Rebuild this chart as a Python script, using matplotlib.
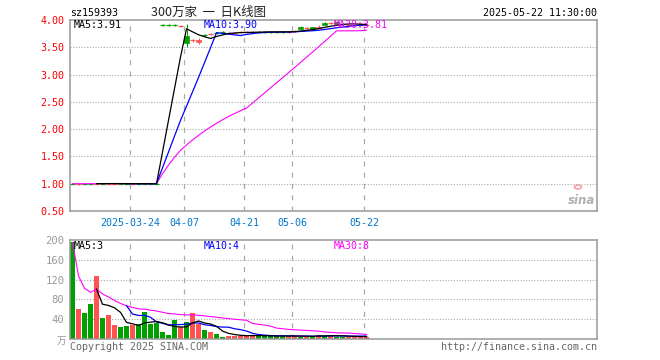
import numpy as np
import pandas as pd
import matplotlib
matplotlib.use('Agg')
import matplotlib.pyplot as plt
from matplotlib.patches import Rectangle, Circle

plt.rcParams['font.family'] = ['DejaVu Sans Mono', 'Noto Sans CJK SC']

# ---------------- data ----------------
date_idx = [10, 19, 29, 37, 49]
date_labels = ['2025-03-24', '04-07', '04-21', '05-06', '05-22']

open_ = [1.001, 0.999, 1.001, 1.001, 1.000, 1.005, 1.001, 1.001, 1.002, 1.001,
         1.000, 1.001, 1.001, 1.001, 1.001,
         3.912, 3.912, 3.912, 3.888, 3.700, 3.620, 3.600, 3.725, 3.735, 3.765,
         3.775, 3.765, 3.765, 3.770, 3.770, 3.775, 3.790, 3.790, 3.790, 3.785,
         3.785, 3.780, 3.790, 3.880, 3.845, 3.870, 3.860, 3.950, 3.945, 3.970,
         3.935, 3.915, 3.915, 3.915, 3.905]
close = [1.000, 1.001, 1.000, 1.000, 1.005, 1.002, 1.002, 1.002, 1.001, 1.000,
         1.001, 1.000, 1.000, 1.000, 1.000,
         3.908, 3.908, 3.908, 3.892, 3.580, 3.630, 3.640, 3.720, 3.740, 3.760,
         3.770, 3.770, 3.770, 3.775, 3.775, 3.780, 3.785, 3.785, 3.785, 3.780,
         3.780, 3.785, 3.800, 3.840, 3.850, 3.840, 3.880, 3.910, 3.950, 3.930,
         3.925, 3.920, 3.920, 3.920, 3.910]
high = [1.002, 1.002, 1.002, 1.002, 1.006, 1.006, 1.003, 1.003, 1.003, 1.002,
        1.002, 1.002, 1.002, 1.002, 1.002,
        3.93, 3.93, 3.93, 3.91, 3.92, 3.66, 3.67, 3.74, 3.76, 3.78,
        3.79, 3.78, 3.78, 3.79, 3.79, 3.80, 3.80, 3.80, 3.80, 3.80,
        3.80, 3.80, 3.81, 3.89, 3.87, 3.88, 3.90, 3.96, 3.97, 3.98,
        3.95, 3.94, 3.94, 3.94, 3.93]
low = [0.999, 0.985, 0.999, 0.999, 0.999, 1.001, 1.000, 1.000, 1.000, 0.999,
       0.999, 0.999, 0.999, 0.999, 0.999,
       3.89, 3.89, 3.89, 3.87, 3.50, 3.60, 3.56, 3.70, 3.72, 3.75,
       3.76, 3.76, 3.76, 3.76, 3.76, 3.77, 3.77, 3.77, 3.77, 3.77,
       3.77, 3.77, 3.78, 3.83, 3.83, 3.83, 3.85, 3.90, 3.93, 3.92,
       3.91, 3.90, 3.90, 3.90, 3.89]
volume = [195, 60, 52, 70, 127, 42, 48, 28, 24, 26,
          28, 30, 55, 31, 33, 15, 9, 39, 25, 35,
          53, 30, 19, 15, 11, 5, 7, 7, 7, 7,
          7, 6, 6, 6, 6, 6, 6, 6, 5, 5,
          5, 9, 7, 7, 5, 5, 5, 5, 5, 4]

price_ma_labels = ['MA5:3.91', 'MA10:3.90', 'MA30:3.81']
vol_ma_labels = ['MA5:3', 'MA10:4', 'MA30:8']
title_code = 'sz159393'
title_name = '300万家  一  日K线图'
title_time = '2025-05-22 11:30:00'

# ---------------- layout helpers ----------------
W, H = 660, 360
fig = plt.figure(figsize=(6.6, 3.6), dpi=100)


def rect(l, t, r, b):
    return [l / W, 1 - b / H, (r - l) / W, (b - t) / H]


def ftext(xp, yp, s, **kw):
    fig.text(xp / W, 1 - yp / H, s, **kw)


RED = '#ff5252'
GREEN = '#00a000'
GRID = '#aaaaaa'
FRAME = '#999999'

n = len(close)
xs = np.arange(n) + 0.42
o = np.array(open_)
c = np.array(close)
hi = np.array(high)
lo = np.array(low)
up = c >= o
colors = [RED if u else GREEN for u in up]
XMAX = 527 / 6

# ---------------- price panel ----------------
ax = fig.add_axes(rect(70, 20, 597, 211))
ax.set_xlim(0, XMAX)
ax.set_ylim(0.5, 4.0)
for lv in [1.0, 1.5, 2.0, 2.5, 3.0, 3.5]:
    ax.axhline(lv, color=GRID, lw=0.8, ls=(0, (1, 1.5)), zorder=0)
for d in date_idx:
    ax.axvline(d, color=GRID, lw=0.9, ls=(0, (4, 5)), zorder=0)

for i in range(n):
    col = colors[i]
    ax.vlines(xs[i], lo[i], hi[i], color=col, lw=0.75, zorder=2)
    b0 = min(o[i], c[i])
    bh = abs(c[i] - o[i])
    if bh < 0.015:
        ax.hlines((o[i] + c[i]) / 2, xs[i] - 0.4, xs[i] + 0.4, color=col, lw=0.9, zorder=2)
    else:
        ax.add_patch(Rectangle((xs[i] - 0.4, b0), 0.8, bh, facecolor=col,
                               edgecolor=col, lw=0.5, zorder=2))

cs = pd.Series(c)
ma5 = cs.rolling(5).mean()
ma10 = cs.rolling(10).mean()
ma30 = cs.rolling(30, min_periods=1).mean()
ax.plot(xs, ma30, color='#ff00ff', lw=0.8, zorder=3)
ax.plot(xs, ma10, color='#0000ff', lw=0.9, zorder=4)
ax.plot(xs, ma5, color='black', lw=0.9, zorder=5)

ax.set_yticks([0.5, 1.0, 1.5, 2.0, 2.5, 3.0, 3.5, 4.0])
ax.set_yticklabels(['%.2f' % v for v in [0.5, 1.0, 1.5, 2.0, 2.5, 3.0, 3.5, 4.0]])
ax.tick_params(axis='y', length=0, pad=4, labelcolor='#ff0000', labelsize=7.2)
ax.set_xticks(date_idx)
ax.set_xticklabels(date_labels)
ax.tick_params(axis='x', length=0, pad=5, labelcolor='#0077cc', labelsize=7.2)
for s in ax.spines.values():
    s.set_color(FRAME)
    s.set_linewidth(1.1)

# ---------------- volume panel ----------------
av = fig.add_axes(rect(70, 240, 597, 339))
av.set_xlim(0, XMAX)
av.set_ylim(0, 200)
for lv in [40, 80, 120, 160]:
    av.axhline(lv, color=GRID, lw=0.8, ls=(0, (1, 1.5)), zorder=0)
for d in date_idx:
    av.axvline(d, color=GRID, lw=0.9, ls=(0, (4, 5)), zorder=0)
av.bar(xs, volume, width=0.8, color=colors, linewidth=0, zorder=2)
vs = pd.Series(volume, dtype=float)
vma5 = vs.rolling(5).mean()
vma10 = vs.rolling(10).mean()
vma30 = vs.rolling(30, min_periods=1).mean()
av.plot(xs, vma30, color='#ff00ff', lw=0.8, zorder=3)
av.plot(xs, vma10, color='#0000ff', lw=0.9, zorder=4)
av.plot(xs, vma5, color='black', lw=0.9, zorder=5)
av.set_yticks([40, 80, 120, 160, 200])
av.set_yticklabels(['40', '80', '120', '160', '200'])
av.tick_params(axis='y', length=0, pad=4, labelcolor='#999999', labelsize=7.6)
av.set_xticks([])
for s in av.spines.values():
    s.set_color(FRAME)
    s.set_linewidth(1.1)

# ---------------- texts ----------------
mono = dict(family=['DejaVu Sans Mono'], fontsize=7.2, va='center')
ftext(70, 12.5, title_code, color='black', ha='left', **mono)
ftext(209, 12.5, title_name, color='#222222', ha='center', va='center',
      family=['Noto Sans CJK SC', 'DejaVu Sans'], fontsize=9)
ftext(597, 12.5, title_time, color='black', ha='right', **mono)

ftext(74, 25.5, price_ma_labels[0], color='black', ha='left', **mono)
ftext(204, 25.5, price_ma_labels[1], color='#0000ff', ha='left', **mono)
ftext(334, 25.5, price_ma_labels[2], color='#ff00ff', ha='left', **mono)

ftext(74, 246, vol_ma_labels[0], color='black', ha='left', **mono)
ftext(204, 246, vol_ma_labels[1], color='#0000ff', ha='left', **mono)
ftext(334, 246, vol_ma_labels[2], color='#ff00ff', ha='left', **mono)

ftext(66, 341, '万', color='#999999', ha='right', va='center',
      family=['Noto Sans CJK SC', 'DejaVu Sans'], fontsize=7)
ftext(70, 346.5, 'Copyright 2025 SINA.COM', color='#666666', ha='left',
      family=['DejaVu Sans Mono'], fontsize=7.2, va='center')
ftext(597, 346.5, 'http://finance.sina.com.cn', color='#666666', ha='right',
      family=['DejaVu Sans Mono'], fontsize=7.2, va='center')

# sina watermark
ftext(582, 200, 'sina', color='#b0b0b0', ha='center', va='center',
      family=['DejaVu Sans'], fontsize=8.5, style='italic', weight='bold')
fig.patches.append(Circle((578 / W, 1 - 187 / H), 3.5 / W, transform=fig.transFigure,
                          facecolor='none', edgecolor='#f4a0a0', lw=1.2))

fig.savefig('out.png', dpi=100)
